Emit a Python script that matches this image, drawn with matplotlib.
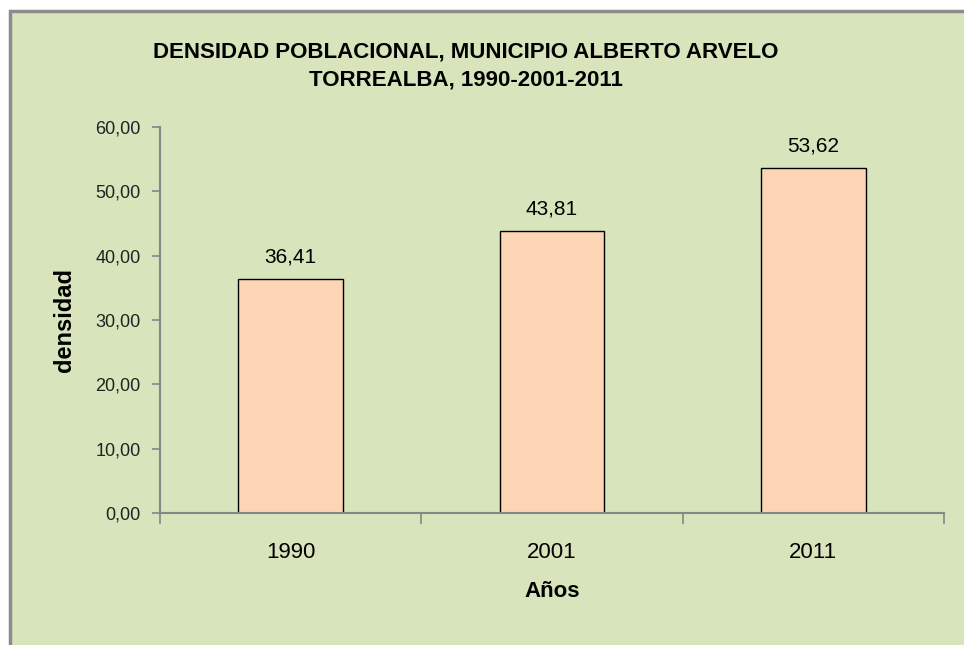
import matplotlib.pyplot as plt
from matplotlib.patches import Rectangle

years = ["1990", "2001", "2011"]
density = [36.41, 43.81, 53.62]
y_ticks = [0, 10, 20, 30, 40, 50, 60]

font = "Liberation Sans"

fig = plt.figure(figsize=(9.64, 6.45), dpi=100)
fig.patch.set_facecolor("white")

# green chart area, grey border only on top / left (rest runs off the figure)
W, H = 964, 645
bg = Rectangle((10 / W, -0.3), 1.5, 1.3 - 11 / H,
               transform=fig.transFigure, facecolor="#D8E4BC",
               edgecolor="#8C8C8C", linewidth=2.5, zorder=-10)
fig.patches.append(bg)

ax = fig.add_axes([160 / W, 1 - 513 / H, (944 - 160) / W, (513 - 127) / H])
ax.set_facecolor("none")
ax.set_zorder(5)

x = list(range(len(years)))
ax.bar(x, density, width=0.4, color="#FCD5B5", edgecolor="black", linewidth=1.0)

ax.set_xlim(-0.5, len(years) - 0.5)
ax.set_ylim(0, 60)
ax.set_yticks(y_ticks)
ax.set_yticklabels([f"{v:.2f}".replace(".", ",") for v in y_ticks],
                   fontfamily=font, fontsize=13, color="#222222")

# category labels between boundary ticks
ax.set_xticks([i - 0.5 for i in range(len(years) + 1)])
ax.set_xticklabels([])
ax.set_xticks(x, minor=True)
ax.set_xticklabels(years, minor=True, fontfamily=font, fontsize=16)
ax.tick_params(axis="x", which="minor", length=0, pad=21)
ax.tick_params(axis="x", which="major", length=8, color="#868686", width=1.2)
ax.tick_params(axis="y", length=6, color="#868686", width=1.2, pad=8)

for s in ["top", "right"]:
    ax.spines[s].set_visible(False)
for s in ["left", "bottom"]:
    ax.spines[s].set_color("#868686")
    ax.spines[s].set_linewidth(1.5)

for xi, v in zip(x, density):
    ax.annotate(f"{v:.2f}".replace(".", ","), (xi, v), xytext=(0, 9),
                textcoords="offset points", ha="center", va="bottom",
                fontfamily=font, fontsize=15)

ax.set_ylabel("densidad", fontfamily=font, fontsize=17, fontweight="bold", labelpad=14)
ax.set_xlabel("Años", fontfamily=font, fontsize=16, fontweight="bold", labelpad=13)

fig.text(0.483, 1 - 66 / H, "DENSIDAD POBLACIONAL, MUNICIPIO ALBERTO ARVELO\nTORREALBA, 1990-2001-2011",
         ha="center", va="center", fontfamily=font, fontsize=16, fontweight="bold",
         linespacing=1.45)

fig.savefig("out.png", dpi=100, facecolor=fig.get_facecolor())
